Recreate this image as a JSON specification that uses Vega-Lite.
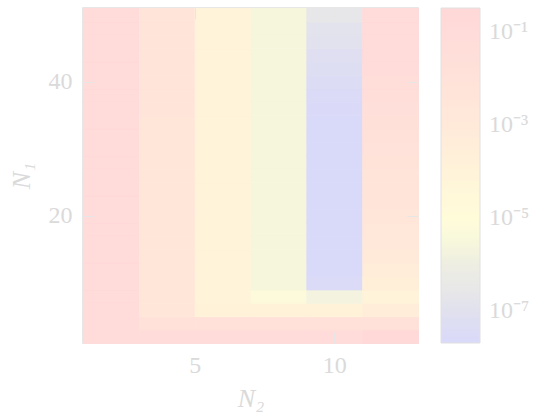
{
  "$schema": "https://vega.github.io/schema/vega-lite/v6.json",
  "width": 335,
  "height": 335,
  "autosize": "none",
  "padding": {"left": 83, "top": 8, "right": 124, "bottom": 71},
  "background": "white",
  "config": {
    "view": {"stroke": "#e0e0e0", "strokeWidth": 1.5},
    "font": "Liberation Serif",
    "axis": {
      "labelFont": "Liberation Serif",
      "labelFontSize": 24,
      "labelColor": "#dadada",
      "tickColor": "#e6e6e6",
      "tickSize": -11,
      "tickWidth": 1,
      "domain": false,
      "grid": false,
      "titleFont": "Liberation Serif",
      "titleFontStyle": "italic",
      "titleFontWeight": "normal",
      "titleFontSize": 26,
      "titleColor": "#dadada"
    }
  },
  "data": {
    "values": [
      {"N2": 2, "N1": 2, "err": 0.08}, {"N2": 2, "N1": 4, "err": 0.08}, {"N2": 2, "N1": 6, "err": 0.09}, {"N2": 2, "N1": 8, "err": 0.09}, {"N2": 2, "N1": 10, "err": 0.09},
      {"N2": 2, "N1": 12, "err": 0.09}, {"N2": 2, "N1": 14, "err": 0.09}, {"N2": 2, "N1": 16, "err": 0.09}, {"N2": 2, "N1": 18, "err": 0.09}, {"N2": 2, "N1": 20, "err": 0.09},
      {"N2": 2, "N1": 22, "err": 0.09}, {"N2": 2, "N1": 24, "err": 0.09}, {"N2": 2, "N1": 26, "err": 0.09}, {"N2": 2, "N1": 28, "err": 0.09}, {"N2": 2, "N1": 30, "err": 0.09},
      {"N2": 2, "N1": 32, "err": 0.09}, {"N2": 2, "N1": 34, "err": 0.09}, {"N2": 2, "N1": 36, "err": 0.09}, {"N2": 2, "N1": 38, "err": 0.09}, {"N2": 2, "N1": 40, "err": 0.09},
      {"N2": 2, "N1": 42, "err": 0.09}, {"N2": 2, "N1": 44, "err": 0.09}, {"N2": 2, "N1": 46, "err": 0.09}, {"N2": 2, "N1": 48, "err": 0.09}, {"N2": 2, "N1": 50, "err": 0.09},

      {"N2": 4, "N1": 2, "err": 0.08}, {"N2": 4, "N1": 4, "err": 0.012}, {"N2": 4, "N1": 6, "err": 0.0025}, {"N2": 4, "N1": 8, "err": 0.0025}, {"N2": 4, "N1": 10, "err": 0.0025},
      {"N2": 4, "N1": 12, "err": 0.0025}, {"N2": 4, "N1": 14, "err": 0.0025}, {"N2": 4, "N1": 16, "err": 0.0025}, {"N2": 4, "N1": 18, "err": 0.0025}, {"N2": 4, "N1": 20, "err": 0.0025},
      {"N2": 4, "N1": 22, "err": 0.0025}, {"N2": 4, "N1": 24, "err": 0.0025}, {"N2": 4, "N1": 26, "err": 0.0025}, {"N2": 4, "N1": 28, "err": 0.0025}, {"N2": 4, "N1": 30, "err": 0.0025},
      {"N2": 4, "N1": 32, "err": 0.0025}, {"N2": 4, "N1": 34, "err": 0.0025}, {"N2": 4, "N1": 36, "err": 0.004}, {"N2": 4, "N1": 38, "err": 0.004}, {"N2": 4, "N1": 40, "err": 0.004},
      {"N2": 4, "N1": 42, "err": 0.004}, {"N2": 4, "N1": 44, "err": 0.004}, {"N2": 4, "N1": 46, "err": 0.004}, {"N2": 4, "N1": 48, "err": 0.004}, {"N2": 4, "N1": 50, "err": 0.004},

      {"N2": 6, "N1": 2, "err": 0.08}, {"N2": 6, "N1": 4, "err": 0.012}, {"N2": 6, "N1": 6, "err": 0.00012}, {"N2": 6, "N1": 8, "err": 0.0001}, {"N2": 6, "N1": 10, "err": 0.0001},
      {"N2": 6, "N1": 12, "err": 0.0001}, {"N2": 6, "N1": 14, "err": 0.0001}, {"N2": 6, "N1": 16, "err": 0.0001}, {"N2": 6, "N1": 18, "err": 0.0001}, {"N2": 6, "N1": 20, "err": 0.0001},
      {"N2": 6, "N1": 22, "err": 0.0001}, {"N2": 6, "N1": 24, "err": 0.0001}, {"N2": 6, "N1": 26, "err": 0.0001}, {"N2": 6, "N1": 28, "err": 0.0001}, {"N2": 6, "N1": 30, "err": 0.0001},
      {"N2": 6, "N1": 32, "err": 0.0001}, {"N2": 6, "N1": 34, "err": 0.0001}, {"N2": 6, "N1": 36, "err": 0.0001}, {"N2": 6, "N1": 38, "err": 0.0001}, {"N2": 6, "N1": 40, "err": 0.0001},
      {"N2": 6, "N1": 42, "err": 0.0001}, {"N2": 6, "N1": 44, "err": 0.0001}, {"N2": 6, "N1": 46, "err": 0.0001}, {"N2": 6, "N1": 48, "err": 0.0001}, {"N2": 6, "N1": 50, "err": 0.0001},

      {"N2": 8, "N1": 2, "err": 0.08}, {"N2": 8, "N1": 4, "err": 0.012}, {"N2": 8, "N1": 6, "err": 0.00012}, {"N2": 8, "N1": 8, "err": 0.000006}, {"N2": 8, "N1": 10, "err": 0.0000025},
      {"N2": 8, "N1": 12, "err": 0.0000025}, {"N2": 8, "N1": 14, "err": 0.0000025}, {"N2": 8, "N1": 16, "err": 0.0000025}, {"N2": 8, "N1": 18, "err": 0.0000025}, {"N2": 8, "N1": 20, "err": 0.0000025},
      {"N2": 8, "N1": 22, "err": 0.0000025}, {"N2": 8, "N1": 24, "err": 0.0000025}, {"N2": 8, "N1": 26, "err": 0.0000025}, {"N2": 8, "N1": 28, "err": 0.0000025}, {"N2": 8, "N1": 30, "err": 0.0000025},
      {"N2": 8, "N1": 32, "err": 0.0000025}, {"N2": 8, "N1": 34, "err": 0.0000025}, {"N2": 8, "N1": 36, "err": 0.0000025}, {"N2": 8, "N1": 38, "err": 0.0000025}, {"N2": 8, "N1": 40, "err": 0.0000025},
      {"N2": 8, "N1": 42, "err": 0.0000025}, {"N2": 8, "N1": 44, "err": 0.0000025}, {"N2": 8, "N1": 46, "err": 0.0000025}, {"N2": 8, "N1": 48, "err": 0.0000025}, {"N2": 8, "N1": 50, "err": 0.0000025},

      {"N2": 10, "N1": 2, "err": 0.08}, {"N2": 10, "N1": 4, "err": 0.012}, {"N2": 10, "N1": 6, "err": 0.00012}, {"N2": 10, "N1": 8, "err": 0.0000018}, {"N2": 10, "N1": 10, "err": 3e-8},
      {"N2": 10, "N1": 12, "err": 2e-8}, {"N2": 10, "N1": 14, "err": 2e-8}, {"N2": 10, "N1": 16, "err": 2e-8}, {"N2": 10, "N1": 18, "err": 2e-8}, {"N2": 10, "N1": 20, "err": 2e-8},
      {"N2": 10, "N1": 22, "err": 2e-8}, {"N2": 10, "N1": 24, "err": 2e-8}, {"N2": 10, "N1": 26, "err": 2e-8}, {"N2": 10, "N1": 28, "err": 2e-8}, {"N2": 10, "N1": 30, "err": 2e-8},
      {"N2": 10, "N1": 32, "err": 2e-8}, {"N2": 10, "N1": 34, "err": 2e-8}, {"N2": 10, "N1": 36, "err": 2.5e-8}, {"N2": 10, "N1": 38, "err": 3e-8}, {"N2": 10, "N1": 40, "err": 4e-8},
      {"N2": 10, "N1": 42, "err": 5e-8}, {"N2": 10, "N1": 44, "err": 7e-8}, {"N2": 10, "N1": 46, "err": 1.1e-7}, {"N2": 10, "N1": 48, "err": 1.3e-7}, {"N2": 10, "N1": 50, "err": 2.5e-7},

      {"N2": 12, "N1": 2, "err": 0.3}, {"N2": 12, "N1": 4, "err": 0.012}, {"N2": 12, "N1": 6, "err": 0.0004}, {"N2": 12, "N1": 8, "err": 0.0001}, {"N2": 12, "N1": 10, "err": 0.00025},
      {"N2": 12, "N1": 12, "err": 0.0005}, {"N2": 12, "N1": 14, "err": 0.0008}, {"N2": 12, "N1": 16, "err": 0.0013}, {"N2": 12, "N1": 18, "err": 0.002}, {"N2": 12, "N1": 20, "err": 0.003},
      {"N2": 12, "N1": 22, "err": 0.0035}, {"N2": 12, "N1": 24, "err": 0.004}, {"N2": 12, "N1": 26, "err": 0.005}, {"N2": 12, "N1": 28, "err": 0.007}, {"N2": 12, "N1": 30, "err": 0.009},
      {"N2": 12, "N1": 32, "err": 0.013}, {"N2": 12, "N1": 34, "err": 0.018}, {"N2": 12, "N1": 36, "err": 0.025}, {"N2": 12, "N1": 38, "err": 0.035}, {"N2": 12, "N1": 40, "err": 0.05},
      {"N2": 12, "N1": 42, "err": 0.08}, {"N2": 12, "N1": 44, "err": 0.09}, {"N2": 12, "N1": 46, "err": 0.095}, {"N2": 12, "N1": 48, "err": 0.1}, {"N2": 12, "N1": 50, "err": 0.1}
    ]
  },
  "layer": [
    {
      "mark": {"type": "rect", "strokeWidth": 0.8, "stroke": {"expr": "scale('color', datum.err)"}},
      "encoding": {
        "x": {
          "field": "N2", "type": "quantitative",
          "bin": {"step": 2, "extent": [1, 13], "nice": false},
          "scale": {"domain": [1, 13], "nice": false, "zero": false},
          "axis": {"orient": "bottom", "values": [5, 10], "title": "N₂", "labelPadding": 21, "titlePadding": 8}
        },
        "y": {
          "field": "N1", "type": "quantitative",
          "bin": {"step": 2, "extent": [1, 51], "nice": false},
          "scale": {"domain": [1, 51], "nice": false, "zero": false},
          "axis": {"orient": "left", "values": [20, 40], "title": "N₁", "labelPadding": 22, "titlePadding": 14}
        },
        "color": {
          "field": "err", "type": "quantitative",
          "scale": {
            "type": "log",
            "domain": [2e-8, 1e-7, 3.2e-7, 1e-6, 3.2e-6, 1e-5, 1e-4, 1e-3, 1e-2, 1e-1, 0.33],
            "range": ["#d9d9fa", "#e1e1ee", "#e8e8e8", "#eeeee2", "#f8f8dc", "#fffcd9", "#fff3d9", "#ffe9d9", "#ffe2d9", "#ffdbd9", "#ffd8d8"],
            "interpolate": "rgb"
          },
          "legend": {
            "type": "gradient",
            "orient": "right",
            "offset": 22,
            "title": null,
            "gradientLength": 335,
            "gradientThickness": 39,
            "gradientStrokeColor": "#e0e0e0",
            "gradientStrokeWidth": 1,
            "values": [1e-7, 1e-5, 1e-3, 1e-1],
            "labelExpr": "'10' + (round(log(datum.value)/LN10) == -1 ? '⁻¹' : round(log(datum.value)/LN10) == -3 ? '⁻³' : round(log(datum.value)/LN10) == -5 ? '⁻⁵' : '⁻⁷')",
            "labelFont": "Liberation Serif",
            "labelFontSize": 24,
            "labelColor": "#dadada",
            "labelOffset": 9,
            "labelOverlap": false
          }
        }
      }
    },
    {
      "mark": {"type": "rect", "opacity": 0},
      "encoding": {
        "x": {
          "field": "N2", "type": "quantitative",
          "bin": {"step": 2, "extent": [1, 13], "nice": false},
          "axis": {"orient": "top", "values": [5, 10], "labels": false, "title": null}
        },
        "y": {
          "field": "N1", "type": "quantitative",
          "bin": {"step": 2, "extent": [1, 51], "nice": false},
          "axis": {"orient": "right", "values": [20, 40], "labels": false, "title": null}
        }
      }
    }
  ],
  "resolve": {"axis": {"x": "independent", "y": "independent"}}
}
